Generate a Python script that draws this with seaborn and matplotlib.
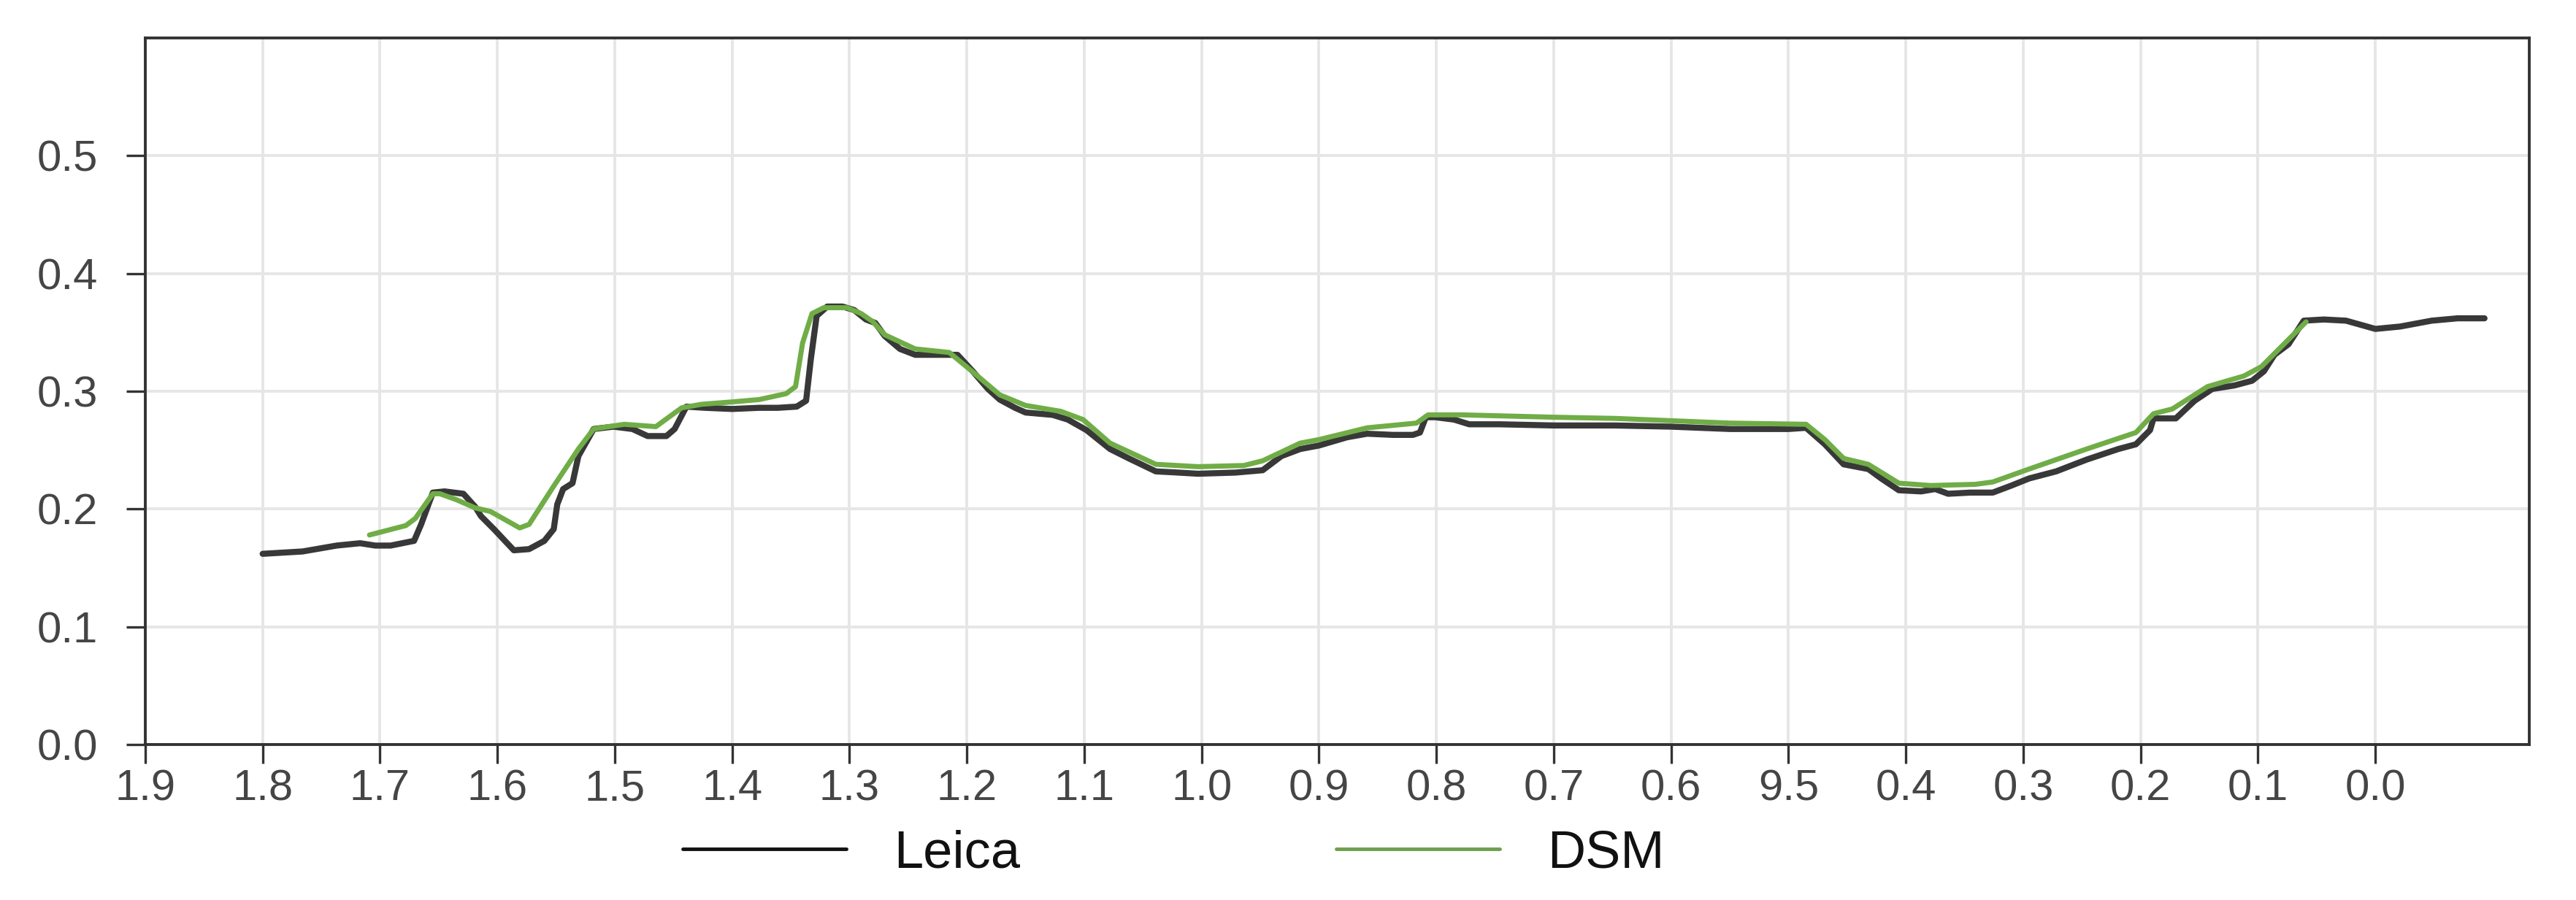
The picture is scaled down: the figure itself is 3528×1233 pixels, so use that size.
import matplotlib
matplotlib.use("Agg")
import matplotlib.pyplot as plt
from matplotlib.lines import Line2D
import seaborn as sns
import pandas as pd

# Leica profile (x = position along profile, y = value)
leica_x = [1.800, 1.766, 1.737, 1.717, 1.704, 1.691, 1.671, 1.665, 1.655, 1.645,
           1.629, 1.619, 1.614, 1.603, 1.586, 1.573, 1.560, 1.552, 1.549, 1.544,
           1.536, 1.531, 1.518, 1.501, 1.485, 1.472, 1.456, 1.449, 1.439, 1.423,
           1.400, 1.377, 1.361, 1.345, 1.337, 1.333, 1.328, 1.319, 1.306, 1.296,
           1.286, 1.278, 1.270, 1.257, 1.244, 1.224, 1.208, 1.195, 1.182, 1.172,
           1.159, 1.150, 1.127, 1.114, 1.098, 1.078, 1.062, 1.039, 1.020, 1.003,
           0.971, 0.948, 0.932, 0.916, 0.900, 0.876, 0.859, 0.837, 0.820, 0.814,
           0.809, 0.801, 0.785, 0.772, 0.746, 0.700, 0.648, 0.600, 0.550, 0.500,
           0.485, 0.469, 0.453, 0.432, 0.421, 0.406, 0.387, 0.375, 0.364, 0.345,
           0.326, 0.310, 0.295, 0.272, 0.246, 0.219, 0.204, 0.192, 0.189, 0.170,
           0.154, 0.139, 0.120, 0.105, 0.095, 0.086, 0.074, 0.061, 0.044, 0.025,
           0.000, -0.021, -0.048, -0.070, -0.093]
leica_y = [0.162, 0.164, 0.169, 0.171, 0.169, 0.169, 0.173, 0.187, 0.214, 0.215,
           0.213, 0.202, 0.194, 0.183, 0.165, 0.166, 0.173, 0.183, 0.204, 0.217,
           0.222, 0.245, 0.268, 0.270, 0.268, 0.262, 0.262, 0.268, 0.287, 0.286,
           0.285, 0.286, 0.286, 0.287, 0.292, 0.327, 0.364, 0.372, 0.372, 0.369,
           0.361, 0.358, 0.347, 0.336, 0.331, 0.331, 0.331, 0.317, 0.302, 0.293,
           0.286, 0.282, 0.280, 0.276, 0.267, 0.251, 0.243, 0.232, 0.231, 0.230,
           0.231, 0.233, 0.245, 0.251, 0.254, 0.261, 0.264, 0.263, 0.263, 0.265,
           0.278, 0.278, 0.276, 0.272, 0.272, 0.271, 0.271, 0.270, 0.268, 0.268,
           0.269, 0.255, 0.238, 0.234, 0.226, 0.216, 0.215, 0.217, 0.213, 0.214,
           0.214, 0.220, 0.226, 0.232, 0.242, 0.251, 0.255, 0.267, 0.277, 0.277,
           0.292, 0.302, 0.305, 0.309, 0.317, 0.331, 0.340, 0.360, 0.361, 0.360,
           0.353, 0.355, 0.360, 0.362, 0.362]

# DSM profile
dsm_x = [1.709, 1.678, 1.670, 1.655, 1.649, 1.635, 1.619, 1.606, 1.581, 1.573,
         1.553, 1.531, 1.518, 1.492, 1.465, 1.443, 1.426, 1.400, 1.377, 1.354,
         1.346, 1.340, 1.332, 1.322, 1.302, 1.290, 1.280, 1.270, 1.244, 1.215,
         1.198, 1.172, 1.150, 1.120, 1.101, 1.078, 1.039, 1.003, 0.964, 0.948,
         0.916, 0.900, 0.859, 0.817, 0.807, 0.778, 0.700, 0.648, 0.550, 0.485,
         0.469, 0.453, 0.432, 0.406, 0.379, 0.341, 0.326, 0.295, 0.246, 0.204,
         0.189, 0.173, 0.143, 0.112, 0.097, 0.082, 0.059]
dsm_y = [0.178, 0.186, 0.192, 0.213, 0.213, 0.208, 0.201, 0.198, 0.184, 0.187,
         0.218, 0.251, 0.268, 0.272, 0.270, 0.286, 0.289, 0.291, 0.293, 0.298,
         0.304, 0.341, 0.366, 0.371, 0.371, 0.366, 0.359, 0.348, 0.336, 0.333,
         0.319, 0.297, 0.288, 0.283, 0.276, 0.256, 0.238, 0.236, 0.237, 0.241,
         0.256, 0.259, 0.269, 0.273, 0.280, 0.280, 0.278, 0.277, 0.273, 0.272,
         0.259, 0.243, 0.238, 0.222, 0.220, 0.221, 0.223, 0.234, 0.251, 0.265,
         0.281, 0.285, 0.304, 0.313, 0.321, 0.336, 0.359]

x_ticks = [1.9, 1.8, 1.7, 1.6, 1.5, 1.4, 1.3, 1.2, 1.1, 1.0,
           0.9, 0.8, 0.7, 0.6, 0.5, 0.4, 0.3, 0.2, 0.1, 0.0]
x_tick_labels = ["1.9", "1.8", "1.7", "1.6", "1.5", "1.4", "1.3", "1.2", "1.1", "1.0",
                 "0.9", "0.8", "0.7", "0.6", "9.5", "0.4", "0.3", "0.2", "0.1", "0.0"]
y_ticks = [0.0, 0.1, 0.2, 0.3, 0.4, 0.5]
y_tick_labels = ["0.0", "0.1", "0.2", "0.3", "0.4", "0.5"]

sns.set_style("whitegrid")
plt.rcParams["font.family"] = ["Liberation Sans", "DejaVu Sans"]

fig = plt.figure(figsize=(35.28, 12.33), dpi=100)
ax = fig.add_axes([0.0564, 0.1727, 0.9254, 0.785])

leica = pd.DataFrame({"x": leica_x, "y": leica_y})
dsm = pd.DataFrame({"x": dsm_x, "y": dsm_y})

sns.lineplot(data=leica, x="x", y="y", ax=ax, color="#383838", lw=6,
             sort=False, estimator=None)
sns.lineplot(data=dsm, x="x", y="y", ax=ax, color="#70ad47", lw=5,
             sort=False, estimator=None)

ax.set_xlim(1.9, -0.131)
ax.set_ylim(0, 0.6)
ax.set_xticks(x_ticks)
ax.set_xticklabels(x_tick_labels)
ax.set_yticks(y_ticks)
ax.set_yticklabels(y_tick_labels)
ax.set_xlabel("")
ax.set_ylabel("")

ax.grid(True, color="#e6e6e6", lw=2.8)
ax.set_axisbelow(True)
for s in ax.spines.values():
    s.set_visible(True)
    s.set_color("#333333")
    s.set_linewidth(2.8)

ax.tick_params(axis="both", direction="out", length=19, width=2.4,
               color="#333333", labelsize=43, labelcolor="#454545")
ax.tick_params(axis="x", pad=5, bottom=True)
ax.tick_params(axis="y", pad=28, left=True)

handles = [Line2D([], [], color="#111111", lw=3.5),
           Line2D([], [], color="#6f9f4f", lw=3.5)]
fig.legend(handles, ["Leica", "DSM"], loc="center", bbox_to_anchor=(0.4555, 0.051),
           ncol=2, frameon=False, fontsize=52, handlelength=3.1,
           handletextpad=0.9, columnspacing=6.0, labelcolor="#111111")

fig.savefig("out.png", dpi=100, facecolor="white")
